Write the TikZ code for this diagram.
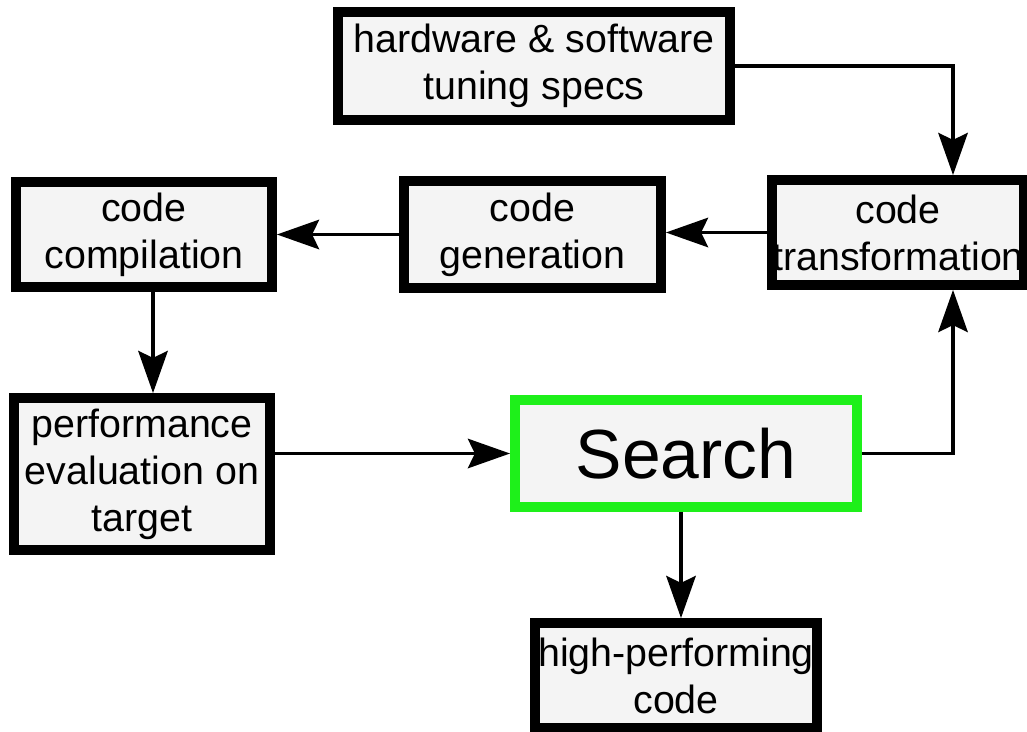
\documentclass[tikz,border=0pt]{standalone}
\usepackage{fontspec}
\setmainfont{Liberation Sans}
\usepackage{xcolor}
\usepackage{tikz}
\usetikzlibrary{arrows.meta, calc}
\definecolor{boxgray}{HTML}{F4F4F4}
\definecolor{searchgreen}{HTML}{1EF01A}
\tikzset{
    stage/.style={draw=black, fill=boxgray, line width=7pt, inner sep=0pt, align=center, font=\fontsize{28}{33.5}\selectfont},
    searchbox/.style={stage, draw=searchgreen, font=\fontsize{49.5}{56}\selectfont},
    flow/.style={line width=2.2pt, -{Stealth[length=30pt, width=21pt, inset=5pt]}}
}

\begin{document}
\begin{tikzpicture}[x=0.025cm, y=-0.025cm]
    \useasboundingbox (0,0) rectangle (1027,731);
    \node[stage, minimum width=9.8cm, minimum height=2.7cm] (hw) at (534,66) {hardware \& software\\tuning specs};
    \node[stage, minimum width=6.15cm, minimum height=2.625cm] (trans) at (898,232.5) {code\\transformation};
    \node[stage, minimum width=6.425cm, minimum height=2.675cm] (gen) at (532.5,234.5) {code\\generation};
    \node[stage, minimum width=6.4cm, minimum height=2.625cm] (comp) at (144,234.5) {code\\compilation};
    \node[stage, minimum width=6.4cm, minimum height=3.8cm] (perf) at (142,474) {performance\\evaluation on\\target};
    \node[searchbox, minimum width=8.55cm, minimum height=2.675cm] (search) at (686,453.5) {Search};
    \node[stage, minimum width=7.05cm, minimum height=2.625cm] (high) at (676,675.5) {high-performing\\code};
    \draw[flow] (hw.east) -| ([xshift=1.375cm]trans.north);
    \draw[flow] (trans.west) -- (trans.west -| gen.east);
    \draw[flow] (gen.west) -- (gen.west -| comp.east);
    \draw[flow] ([xshift=.225cm]comp.south) -- ([xshift=.225cm]comp.south |- perf.north);
    \draw[flow] (search.west -| perf.east) -- (search.west);
    \draw[flow] (search.east) -| ([xshift=1.375cm]trans.south);
    \draw[flow] ([xshift=-.125cm]search.south) -- ([xshift=-.125cm]search.south |- high.north);
\end{tikzpicture}
\end{document}
